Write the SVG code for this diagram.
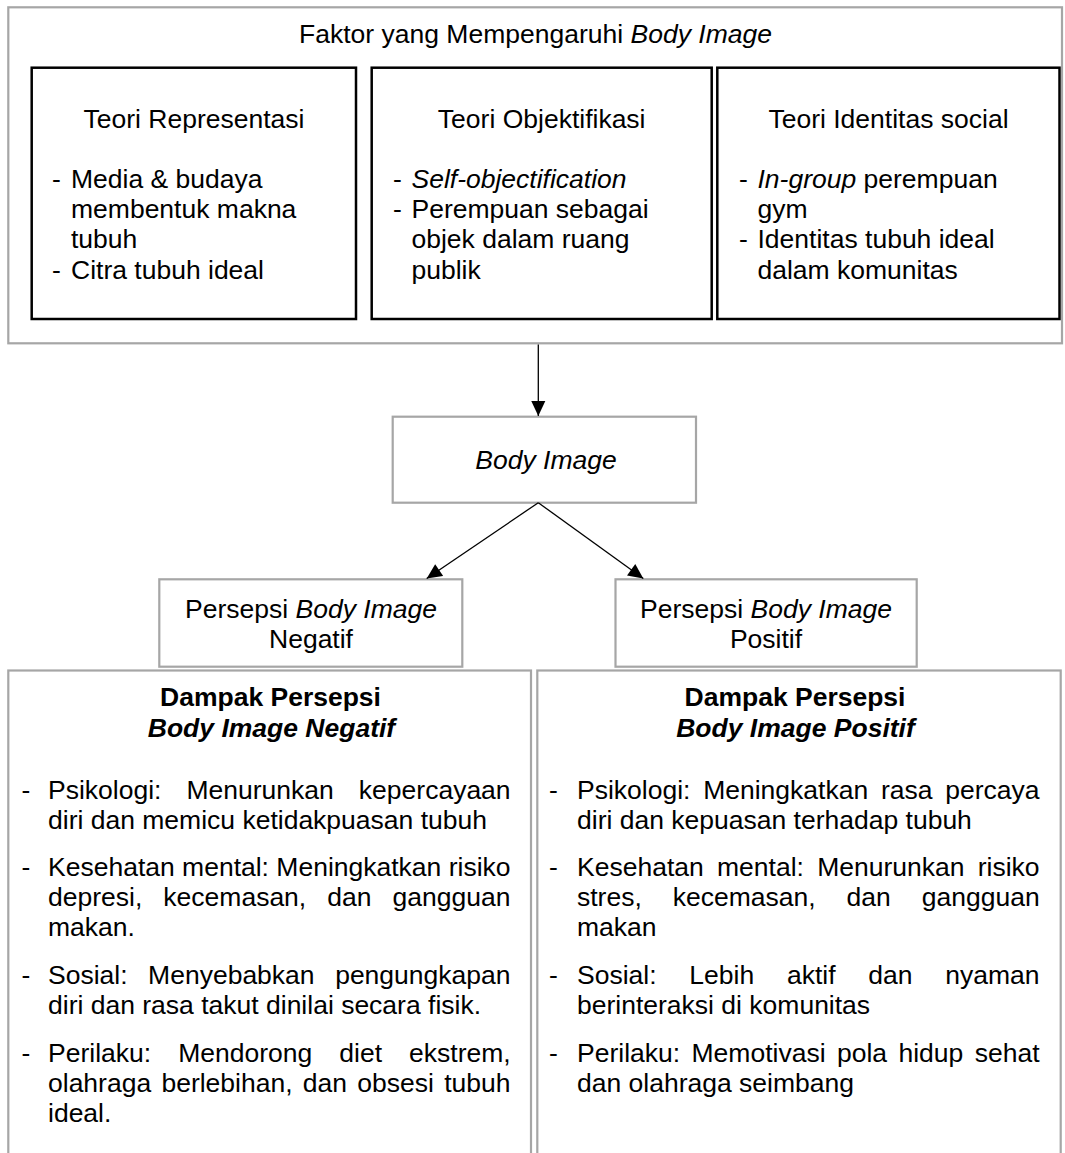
<svg xmlns="http://www.w3.org/2000/svg" width="1065" height="1153" viewBox="0 0 1065 1153">
<style>
text{font-family:"Liberation Sans",Arial,sans-serif;font-size:26.5px;fill:#000}
.g{fill:#fff;stroke:#a6a6a6;stroke-width:2.2}
.k{fill:#fff;stroke:#000;stroke-width:2.5}
.c{text-anchor:middle}
.i{font-style:italic}
.b{font-weight:bold}
.e{text-anchor:end}
.conn line{stroke:#000;stroke-width:1.3}
</style>
<defs>
<marker id="ah" viewBox="0 0 16 16" refX="16" refY="8" markerWidth="16" markerHeight="15" markerUnits="userSpaceOnUse" orient="auto">
<path d="M0,0.5 L16,8 L0,15.5 z" fill="#000"/>
</marker>
</defs>
<rect width="1065" height="1153" fill="#fff"/>

<g id="faktor">
<rect class="g" x="8.3" y="7.3" width="1053.7" height="336"/>
<text class="c" x="535.5" y="42.7">Faktor yang Mempengaruhi <tspan class="i">Body Image</tspan></text>
</g>

<g id="teori-representasi">
<rect class="k" x="31.7" y="67.7" width="324.3" height="251.3"/>
<text class="c" x="194" y="127.7">Teori Representasi</text>
<text x="52" y="188.3">-</text><text x="71" y="188.3">Media &amp; budaya</text>
<text x="71" y="218.3">membentuk makna</text>
<text x="71" y="248.3">tubuh</text>
<text x="52" y="279">-</text><text x="71" y="279">Citra tubuh ideal</text>
</g>

<g id="teori-objektifikasi">
<rect class="k" x="371.7" y="67.7" width="340" height="251.3"/>
<text class="c" x="541.7" y="127.7">Teori Objektifikasi</text>
<text x="393" y="188.3">-</text><text class="i" x="411.5" y="188.3">Self-objectification</text>
<text x="393" y="218.3">-</text><text x="411.5" y="218.3">Perempuan sebagai</text>
<text x="411.5" y="248.3">objek dalam ruang</text>
<text x="411.5" y="279">publik</text>
</g>

<g id="teori-identitas">
<rect class="k" x="717.3" y="67.7" width="342.2" height="251.3"/>
<text class="c" x="888.5" y="127.7">Teori Identitas social</text>
<text x="739" y="188.3">-</text><text x="757.5" y="188.3"><tspan class="i">In-group</tspan> perempuan</text>
<text x="757.5" y="218.3">gym</text>
<text x="739" y="248.3">-</text><text x="757.5" y="248.3">Identitas tubuh ideal</text>
<text x="757.5" y="279">dalam komunitas</text>
</g>

<g id="body-image">
<rect class="g" x="392.7" y="416.7" width="303.3" height="86"/>
<text class="c i" x="546" y="469.3">Body Image</text>
</g>

<g id="persepsi-negatif">
<rect class="g" x="159.3" y="579.3" width="303" height="87.4"/>
<text class="c" x="311" y="618.3">Persepsi <tspan class="i">Body Image</tspan></text>
<text class="c" x="311" y="648.3">Negatif</text>
</g>

<g id="persepsi-positif">
<rect class="g" x="615.5" y="579.3" width="301.2" height="87.4"/>
<text class="c" x="766" y="618.3">Persepsi <tspan class="i">Body Image</tspan></text>
<text class="c" x="766" y="648.3">Positif</text>
</g>

<g id="dampak-negatif">
<rect class="g" x="8.3" y="670.5" width="522.7" height="500"/>
<text class="c b" x="270.5" y="706">Dampak Persepsi</text>
<text class="c b i" x="271.5" y="737">Body Image Negatif</text>
<text x="21.5" y="799">-</text><text x="48" y="799" word-spacing="17.7">Psikologi: Menurunkan kepercayaan</text>
<text x="48" y="829">diri dan memicu ketidakpuasan tubuh</text>
<text x="21.5" y="876">-</text><text x="48" y="876">Kesehatan mental: Meningkatkan risiko</text>
<text x="48" y="906" word-spacing="13.7">depresi, kecemasan, dan gangguan</text>
<text x="48" y="936">makan.</text>
<text x="21.5" y="984">-</text><text x="48" y="984" word-spacing="13.2">Sosial: Menyebabkan pengungkapan</text>
<text x="48" y="1014">diri dan rasa takut dinilai secara fisik.</text>
<text x="21.5" y="1061.5">-</text><text x="48" y="1061.5" word-spacing="19.7">Perilaku: Mendorong diet ekstrem,</text>
<text x="48" y="1091.5" word-spacing="2.9">olahraga berlebihan, dan obsesi tubuh</text>
<text x="48" y="1121.5">ideal.</text>
</g>

<g id="dampak-positif">
<rect class="g" x="537.3" y="670.5" width="523.4" height="500"/>
<text class="c b" x="795" y="706">Dampak Persepsi</text>
<text class="c b i" x="795.5" y="737">Body Image Positif</text>
<text x="549" y="799">-</text><text x="577" y="799" word-spacing="5.4">Psikologi: Meningkatkan rasa percaya</text>
<text x="577" y="829">diri dan kepuasan terhadap tubuh</text>
<text x="549" y="876">-</text><text x="577" y="876" word-spacing="5.9">Kesehatan mental: Menurunkan risiko</text>
<text x="577" y="906" word-spacing="23.6">stres, kecemasan, dan gangguan</text>
<text x="577" y="936">makan</text>
<text x="549" y="984">-</text><text x="577" y="984" word-spacing="25.4">Sosial: Lebih aktif dan nyaman</text>
<text x="577" y="1014">berinteraksi di komunitas</text>
<text x="549" y="1061.5">-</text><text x="577" y="1061.5" word-spacing="4.05">Perilaku: Memotivasi pola hidup sehat</text>
<text x="577" y="1091.5">dan olahraga seimbang</text>
</g>

<g id="connectors" class="conn">
<line x1="538.3" y1="344.4" x2="538.3" y2="416" marker-end="url(#ah)"/>
<line x1="538.3" y1="502.7" x2="426.7" y2="578.5" marker-end="url(#ah)"/>
<line x1="538.3" y1="502.7" x2="643.3" y2="578.5" marker-end="url(#ah)"/>
</g>
</svg>
